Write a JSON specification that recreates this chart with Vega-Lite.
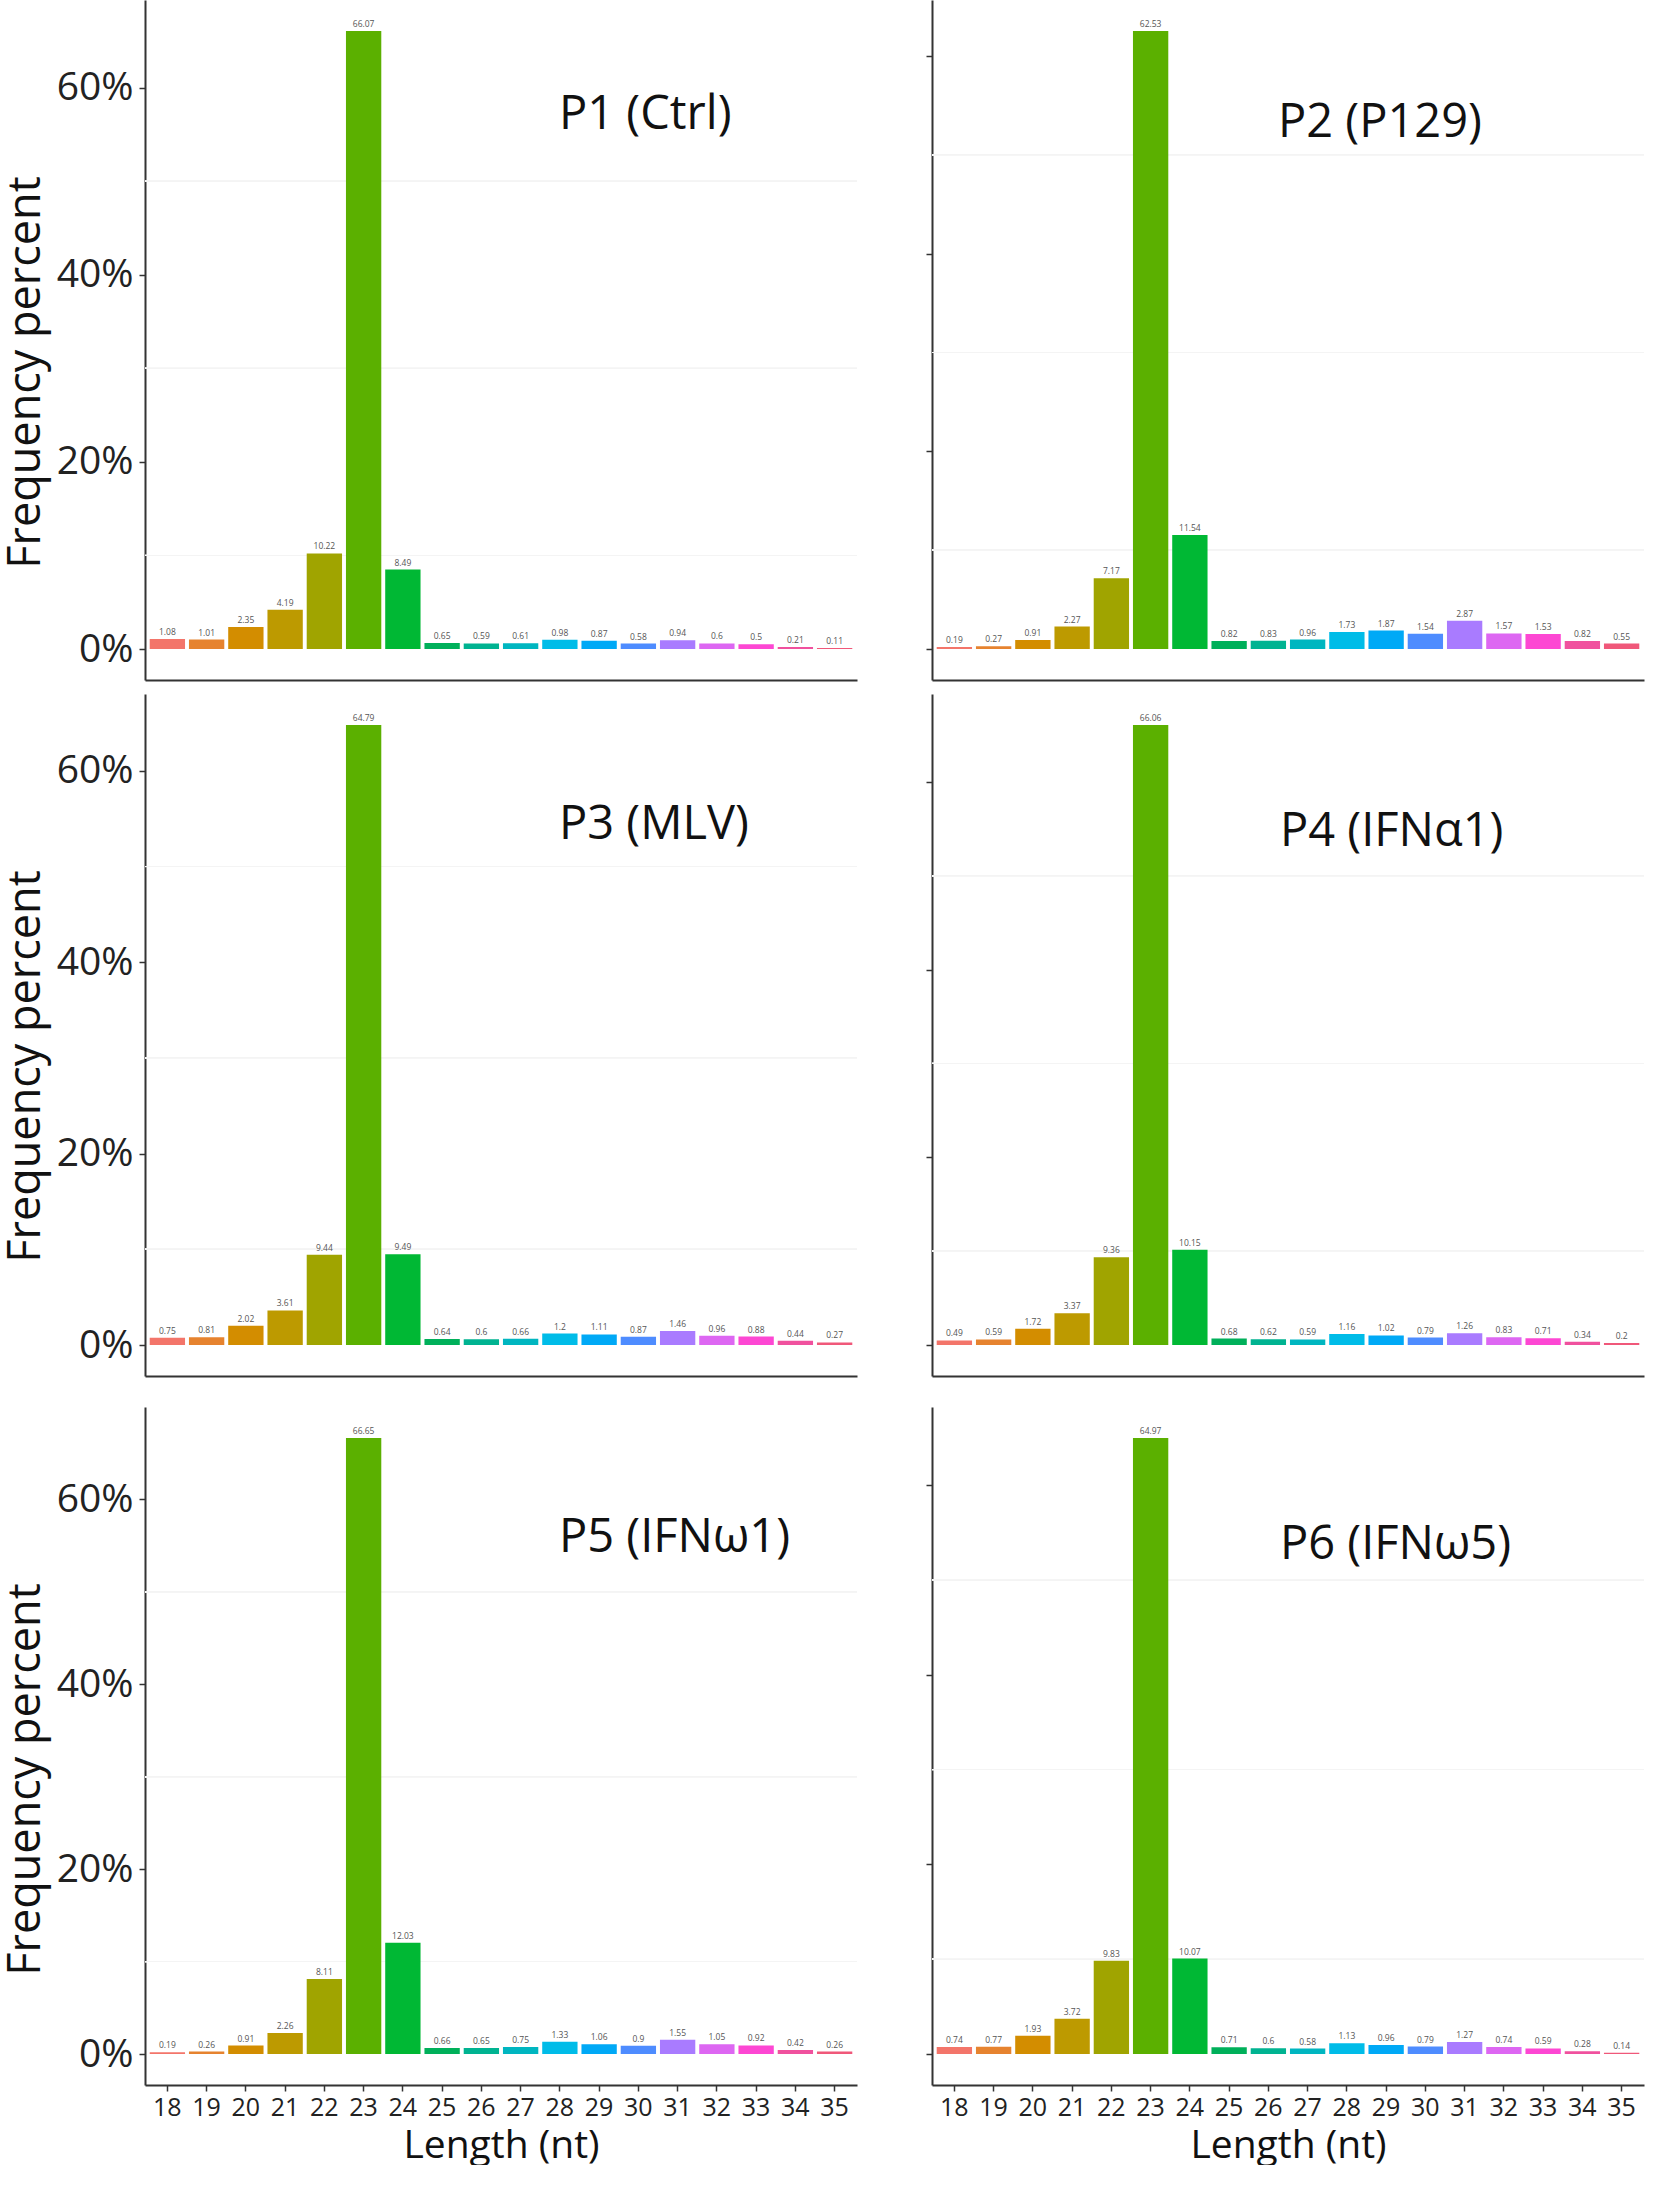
{
  "$schema": "https://vega.github.io/schema/vega-lite/v6.json",
  "padding": {"left": 3, "top": 0, "right": 0, "bottom": 0},
  "background": "white",
  "datasets": {
    "srna": [
      {"panel": "P1", "len": 18, "pct": 1.08}, {"panel": "P1", "len": 19, "pct": 1.01}, {"panel": "P1", "len": 20, "pct": 2.35},
      {"panel": "P1", "len": 21, "pct": 4.19}, {"panel": "P1", "len": 22, "pct": 10.22}, {"panel": "P1", "len": 23, "pct": 66.07},
      {"panel": "P1", "len": 24, "pct": 8.49}, {"panel": "P1", "len": 25, "pct": 0.65}, {"panel": "P1", "len": 26, "pct": 0.59},
      {"panel": "P1", "len": 27, "pct": 0.61}, {"panel": "P1", "len": 28, "pct": 0.98}, {"panel": "P1", "len": 29, "pct": 0.87},
      {"panel": "P1", "len": 30, "pct": 0.58}, {"panel": "P1", "len": 31, "pct": 0.94}, {"panel": "P1", "len": 32, "pct": 0.6},
      {"panel": "P1", "len": 33, "pct": 0.5}, {"panel": "P1", "len": 34, "pct": 0.21}, {"panel": "P1", "len": 35, "pct": 0.11},

      {"panel": "P2", "len": 18, "pct": 0.19}, {"panel": "P2", "len": 19, "pct": 0.27}, {"panel": "P2", "len": 20, "pct": 0.91},
      {"panel": "P2", "len": 21, "pct": 2.27}, {"panel": "P2", "len": 22, "pct": 7.17}, {"panel": "P2", "len": 23, "pct": 62.53},
      {"panel": "P2", "len": 24, "pct": 11.54}, {"panel": "P2", "len": 25, "pct": 0.82}, {"panel": "P2", "len": 26, "pct": 0.83},
      {"panel": "P2", "len": 27, "pct": 0.96}, {"panel": "P2", "len": 28, "pct": 1.73}, {"panel": "P2", "len": 29, "pct": 1.87},
      {"panel": "P2", "len": 30, "pct": 1.54}, {"panel": "P2", "len": 31, "pct": 2.87}, {"panel": "P2", "len": 32, "pct": 1.57},
      {"panel": "P2", "len": 33, "pct": 1.53}, {"panel": "P2", "len": 34, "pct": 0.82}, {"panel": "P2", "len": 35, "pct": 0.55},

      {"panel": "P3", "len": 18, "pct": 0.75}, {"panel": "P3", "len": 19, "pct": 0.81}, {"panel": "P3", "len": 20, "pct": 2.02},
      {"panel": "P3", "len": 21, "pct": 3.61}, {"panel": "P3", "len": 22, "pct": 9.44}, {"panel": "P3", "len": 23, "pct": 64.79},
      {"panel": "P3", "len": 24, "pct": 9.49}, {"panel": "P3", "len": 25, "pct": 0.64}, {"panel": "P3", "len": 26, "pct": 0.6},
      {"panel": "P3", "len": 27, "pct": 0.66}, {"panel": "P3", "len": 28, "pct": 1.2}, {"panel": "P3", "len": 29, "pct": 1.11},
      {"panel": "P3", "len": 30, "pct": 0.87}, {"panel": "P3", "len": 31, "pct": 1.46}, {"panel": "P3", "len": 32, "pct": 0.96},
      {"panel": "P3", "len": 33, "pct": 0.88}, {"panel": "P3", "len": 34, "pct": 0.44}, {"panel": "P3", "len": 35, "pct": 0.27},

      {"panel": "P4", "len": 18, "pct": 0.49}, {"panel": "P4", "len": 19, "pct": 0.59}, {"panel": "P4", "len": 20, "pct": 1.72},
      {"panel": "P4", "len": 21, "pct": 3.37}, {"panel": "P4", "len": 22, "pct": 9.36}, {"panel": "P4", "len": 23, "pct": 66.06},
      {"panel": "P4", "len": 24, "pct": 10.15}, {"panel": "P4", "len": 25, "pct": 0.68}, {"panel": "P4", "len": 26, "pct": 0.62},
      {"panel": "P4", "len": 27, "pct": 0.59}, {"panel": "P4", "len": 28, "pct": 1.16}, {"panel": "P4", "len": 29, "pct": 1.02},
      {"panel": "P4", "len": 30, "pct": 0.79}, {"panel": "P4", "len": 31, "pct": 1.26}, {"panel": "P4", "len": 32, "pct": 0.83},
      {"panel": "P4", "len": 33, "pct": 0.71}, {"panel": "P4", "len": 34, "pct": 0.34}, {"panel": "P4", "len": 35, "pct": 0.2},

      {"panel": "P5", "len": 18, "pct": 0.19}, {"panel": "P5", "len": 19, "pct": 0.26}, {"panel": "P5", "len": 20, "pct": 0.91},
      {"panel": "P5", "len": 21, "pct": 2.26}, {"panel": "P5", "len": 22, "pct": 8.11}, {"panel": "P5", "len": 23, "pct": 66.65},
      {"panel": "P5", "len": 24, "pct": 12.03}, {"panel": "P5", "len": 25, "pct": 0.66}, {"panel": "P5", "len": 26, "pct": 0.65},
      {"panel": "P5", "len": 27, "pct": 0.75}, {"panel": "P5", "len": 28, "pct": 1.33}, {"panel": "P5", "len": 29, "pct": 1.06},
      {"panel": "P5", "len": 30, "pct": 0.9}, {"panel": "P5", "len": 31, "pct": 1.55}, {"panel": "P5", "len": 32, "pct": 1.05},
      {"panel": "P5", "len": 33, "pct": 0.92}, {"panel": "P5", "len": 34, "pct": 0.42}, {"panel": "P5", "len": 35, "pct": 0.26},

      {"panel": "P6", "len": 18, "pct": 0.74}, {"panel": "P6", "len": 19, "pct": 0.77}, {"panel": "P6", "len": 20, "pct": 1.93},
      {"panel": "P6", "len": 21, "pct": 3.72}, {"panel": "P6", "len": 22, "pct": 9.83}, {"panel": "P6", "len": 23, "pct": 64.97},
      {"panel": "P6", "len": 24, "pct": 10.07}, {"panel": "P6", "len": 25, "pct": 0.71}, {"panel": "P6", "len": 26, "pct": 0.6},
      {"panel": "P6", "len": 27, "pct": 0.58}, {"panel": "P6", "len": 28, "pct": 1.13}, {"panel": "P6", "len": 29, "pct": 0.96},
      {"panel": "P6", "len": 30, "pct": 0.79}, {"panel": "P6", "len": 31, "pct": 1.27}, {"panel": "P6", "len": 32, "pct": 0.74},
      {"panel": "P6", "len": 33, "pct": 0.59}, {"panel": "P6", "len": 34, "pct": 0.28}, {"panel": "P6", "len": 35, "pct": 0.14}
    ]
  },
  "data": {"name": "srna"},
  "spacing": 31,
  "resolve": {"scale": {"y": "independent"}},
  "vconcat": [
    {
      "spacing": 14,
      "resolve": {"scale": {"y": "independent"}},
      "vconcat": [
        {
          "spacing": 67,
          "resolve": {"scale": {"y": "independent"}},
          "hconcat": [
            {
              "width": 712, "height": 680,
              "title": {"text": "P1 (Ctrl)", "dx": 414, "dy": 143},
              "transform": [{"filter": "datum.panel == 'P1'"}],
              "encoding": {
                "x": {"field": "len", "type": "ordinal", "axis": {"labels": false, "ticks": false, "title": null}},
                "y": {"field": "pct", "type": "quantitative", "scale": {"padding": 31, "nice": false, "zero": true},
                      "axis": {"values": [0, 20, 40, 60], "labelExpr": "datum.value + '%'", "title": "Frequency percent"}}
              },
              "layer": [
                {"mark": {"type": "rule", "color": "#f4f4f4"}, "encoding": {"x": null, "y": {"datum": 10}}},
                {"mark": {"type": "rule", "color": "#f4f4f4"}, "encoding": {"x": null, "y": {"datum": 30}}},
                {"mark": {"type": "rule", "color": "#f4f4f4"}, "encoding": {"x": null, "y": {"datum": 50}}},
                {"mark": "bar", "encoding": {"color": {"field": "len", "type": "ordinal", "legend": null}}},
                {"mark": {"type": "text", "dy": -7, "fontSize": 8.5, "color": "#555"}, "encoding": {"text": {"field": "pct"}}}
              ]
            },
            {
              "width": 712, "height": 680,
              "title": {"text": "P2 (P129)", "dx": 346, "dy": 151},
              "transform": [{"filter": "datum.panel == 'P2'"}],
              "encoding": {
                "x": {"field": "len", "type": "ordinal", "axis": {"labels": false, "ticks": false, "title": null}},
                "y": {"field": "pct", "type": "quantitative", "scale": {"padding": 31, "nice": false, "zero": true},
                      "axis": {"values": [0, 20, 40, 60], "labels": false, "title": null}}
              },
              "layer": [
                {"mark": {"type": "rule", "color": "#f4f4f4"}, "encoding": {"x": null, "y": {"datum": 10}}},
                {"mark": {"type": "rule", "color": "#f4f4f4"}, "encoding": {"x": null, "y": {"datum": 30}}},
                {"mark": {"type": "rule", "color": "#f4f4f4"}, "encoding": {"x": null, "y": {"datum": 50}}},
                {"mark": "bar", "encoding": {"color": {"field": "len", "type": "ordinal", "legend": null}}},
                {"mark": {"type": "text", "dy": -7, "fontSize": 8.5, "color": "#555"}, "encoding": {"text": {"field": "pct"}}}
              ]
            }
          ]
        },
        {
          "spacing": 67,
          "resolve": {"scale": {"y": "independent"}},
          "hconcat": [
            {
              "width": 712, "height": 682,
              "title": {"text": "P3 (MLV)", "dx": 414, "dy": 159},
              "transform": [{"filter": "datum.panel == 'P3'"}],
              "encoding": {
                "x": {"field": "len", "type": "ordinal", "axis": {"labels": false, "ticks": false, "title": null}},
                "y": {"field": "pct", "type": "quantitative", "scale": {"padding": 31, "nice": false, "zero": true},
                      "axis": {"values": [0, 20, 40, 60], "labelExpr": "datum.value + '%'", "title": "Frequency percent"}}
              },
              "layer": [
                {"mark": {"type": "rule", "color": "#f4f4f4"}, "encoding": {"x": null, "y": {"datum": 10}}},
                {"mark": {"type": "rule", "color": "#f4f4f4"}, "encoding": {"x": null, "y": {"datum": 30}}},
                {"mark": {"type": "rule", "color": "#f4f4f4"}, "encoding": {"x": null, "y": {"datum": 50}}},
                {"mark": "bar", "encoding": {"color": {"field": "len", "type": "ordinal", "legend": null}}},
                {"mark": {"type": "text", "dy": -7, "fontSize": 8.5, "color": "#555"}, "encoding": {"text": {"field": "pct"}}}
              ]
            },
            {
              "width": 712, "height": 682,
              "title": {"text": "P4 (IFNα1)", "dx": 348, "dy": 166},
              "transform": [{"filter": "datum.panel == 'P4'"}],
              "encoding": {
                "x": {"field": "len", "type": "ordinal", "axis": {"labels": false, "ticks": false, "title": null}},
                "y": {"field": "pct", "type": "quantitative", "scale": {"padding": 31, "nice": false, "zero": true},
                      "axis": {"values": [0, 20, 40, 60], "labels": false, "title": null}}
              },
              "layer": [
                {"mark": {"type": "rule", "color": "#f4f4f4"}, "encoding": {"x": null, "y": {"datum": 10}}},
                {"mark": {"type": "rule", "color": "#f4f4f4"}, "encoding": {"x": null, "y": {"datum": 30}}},
                {"mark": {"type": "rule", "color": "#f4f4f4"}, "encoding": {"x": null, "y": {"datum": 50}}},
                {"mark": "bar", "encoding": {"color": {"field": "len", "type": "ordinal", "legend": null}}},
                {"mark": {"type": "text", "dy": -7, "fontSize": 8.5, "color": "#555"}, "encoding": {"text": {"field": "pct"}}}
              ]
            }
          ]
        }
      ]
    },
    {
      "spacing": 67,
      "resolve": {"scale": {"y": "independent"}},
      "hconcat": [
        {
          "width": 712, "height": 678,
          "title": {"text": "P5 (IFNω1)", "dx": 414, "dy": 159},
          "transform": [{"filter": "datum.panel == 'P5'"}],
          "encoding": {
            "x": {"field": "len", "type": "ordinal", "axis": {"title": "Length (nt)"}},
            "y": {"field": "pct", "type": "quantitative", "scale": {"padding": 31, "nice": false, "zero": true},
                  "axis": {"values": [0, 20, 40, 60], "labelExpr": "datum.value + '%'", "title": "Frequency percent"}}
          },
          "layer": [
            {"mark": {"type": "rule", "color": "#f4f4f4"}, "encoding": {"x": null, "y": {"datum": 10}}},
            {"mark": {"type": "rule", "color": "#f4f4f4"}, "encoding": {"x": null, "y": {"datum": 30}}},
            {"mark": {"type": "rule", "color": "#f4f4f4"}, "encoding": {"x": null, "y": {"datum": 50}}},
            {"mark": "bar", "encoding": {"color": {"field": "len", "type": "ordinal", "legend": null}}},
            {"mark": {"type": "text", "dy": -7, "fontSize": 8.5, "color": "#555"}, "encoding": {"text": {"field": "pct"}}}
          ]
        },
        {
          "width": 712, "height": 678,
          "title": {"text": "P6 (IFNω5)", "dx": 348, "dy": 166},
          "transform": [{"filter": "datum.panel == 'P6'"}],
          "encoding": {
            "x": {"field": "len", "type": "ordinal", "axis": {"title": "Length (nt)"}},
            "y": {"field": "pct", "type": "quantitative", "scale": {"padding": 31, "nice": false, "zero": true},
                  "axis": {"values": [0, 20, 40, 60], "labels": false, "title": null}}
          },
          "layer": [
            {"mark": {"type": "rule", "color": "#f4f4f4"}, "encoding": {"x": null, "y": {"datum": 10}}},
            {"mark": {"type": "rule", "color": "#f4f4f4"}, "encoding": {"x": null, "y": {"datum": 30}}},
            {"mark": {"type": "rule", "color": "#f4f4f4"}, "encoding": {"x": null, "y": {"datum": 50}}},
            {"mark": "bar", "encoding": {"color": {"field": "len", "type": "ordinal", "legend": null}}},
            {"mark": {"type": "text", "dy": -7, "fontSize": 8.5, "color": "#555"}, "encoding": {"text": {"field": "pct"}}}
          ]
        }
      ]
    }
  ],
  "config": {
    "font": "Open Sans",
    "view": {"stroke": null},
    "scale": {"bandPaddingInner": 0.1, "bandPaddingOuter": 0.12},
    "range": {
      "ordinal": ["#F3756A", "#E6832F", "#D38D00", "#BD9A00", "#A0A400", "#5BB000", "#00B834", "#00B05A", "#00B391",
                  "#00B6C0", "#00BCE8", "#00A9F6", "#4E8CFF", "#A97BFF", "#DD67F2", "#FD47D3", "#F0519E", "#F0587A"]
    },
    "title": {"anchor": "start", "frame": "group", "offset": 0, "baseline": "middle", "fontSize": 47,
              "fontWeight": "normal", "color": "#111", "font": "Open Sans"},
    "axis": {"grid": false, "domainColor": "#333", "domainWidth": 2, "tickColor": "#333", "tickWidth": 1.5,
             "tickSize": 6, "labelColor": "#222", "titleColor": "#111", "titleFontWeight": "normal",
             "labelFont": "Open Sans", "titleFont": "Open Sans"},
    "axisX": {"labelFontSize": 25, "labelAngle": 0, "labelPadding": 4, "titleFontSize": 39, "titlePadding": 6},
    "axisY": {"labelFontSize": 39, "labelPadding": 6, "titleFontSize": 45, "titlePadding": 8, "titleY": 372}
  }
}
